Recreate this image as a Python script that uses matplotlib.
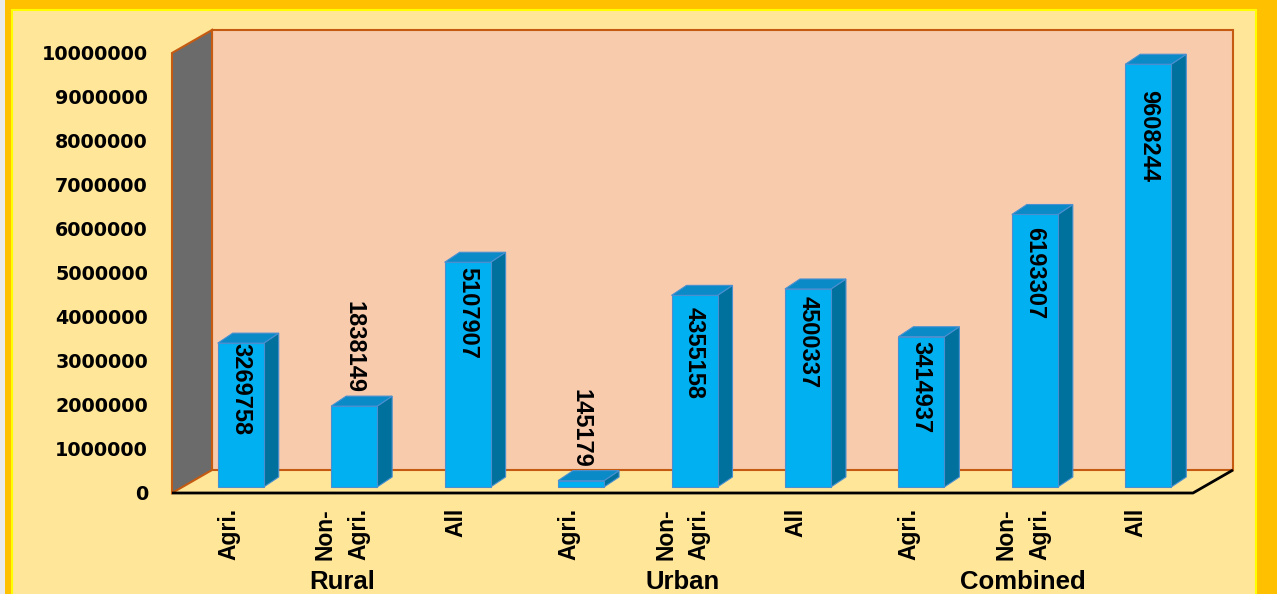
import numpy as np
import matplotlib.pyplot as plt
from matplotlib.patches import Polygon, Rectangle

categories = ['Agri.', 'Non-\nAgri.', 'All', 'Agri.', 'Non-\nAgri.', 'All', 'Agri.', 'Non-\nAgri.', 'All']
groups = ['Rural', 'Urban', 'Combined']
values = [3269758, 1838149, 5107907, 145179, 4355158, 4500337, 3414937, 6193307, 9608244]
yticks = list(range(0, 10000001, 1000000))

# gap (px) between bar top and its value label
label_gap = [0, 13, 5, 13, 12, 7, 4, 13, 26]

W, H = 1277, 594
fig = plt.figure(figsize=(W / 100, H / 100), dpi=100, facecolor='#FFC000')

# outer frame / panel
fig.patches.append(Rectangle((0, 0), 5 / W, 1, transform=fig.transFigure,
                             facecolor='#EAEAEA', edgecolor='none', zorder=-2))
fig.patches.append(Rectangle((12 / W, -0.05), 1244 / W, 1.05 - 10 / H, transform=fig.transFigure,
                             facecolor='#FFE699', edgecolor='#FFFF00', lw=1.5, zorder=-2))

ax = fig.add_axes([172 / W, 101 / H, 1021 / W, 440 / H])
n = len(values)
ymax = yticks[-1]
ax.set_xlim(0, n)
ax.set_ylim(0, ymax)
ax.patch.set_visible(False)
for s in ax.spines.values():
    s.set_visible(False)

# pixel -> data units
px_x = n / 1021
px_y = ymax / 440

# 3d depth of the walls
wdx, wdy = 40 * px_x, 23 * px_y
# bar placement inside the box
bdx, bdy = 12 * px_x, 6 * px_y
# bar own depth
ddx, ddy = 15 * px_x, 10 * px_y
bw = 46 * px_x

wall_edge = '#C55A11'
ax.add_patch(Polygon([(wdx, wdy), (n + wdx, wdy), (n + wdx, ymax + wdy), (wdx, ymax + wdy)],
                     closed=True, facecolor='#F8CBAD', edgecolor=wall_edge, lw=1.5,
                     clip_on=False, zorder=1))
ax.add_patch(Polygon([(0, 0), (wdx, wdy), (wdx, ymax + wdy), (0, ymax)],
                     closed=True, facecolor='#6B6B6B', edgecolor=wall_edge, lw=1.5,
                     clip_on=False, zorder=1))
ax.plot([0, n, n + wdx], [0, 0, wdy], color='black', lw=2, clip_on=False, zorder=2,
        solid_capstyle='butt')

# bars
xc = np.arange(n) + 0.5 + bdx
ax.bar(xc, values, width=bw, bottom=bdy, color='#00B0F0', edgecolor='#4A8FD0',
       lw=0.8, zorder=4)
for x, v in zip(xc, values):
    xl, xr = x - bw / 2, x + bw / 2
    top = v + bdy
    ax.add_patch(Polygon([(xr, bdy), (xr, top), (xr + ddx, top + ddy), (xr + ddx, bdy + ddy)],
                         closed=True, facecolor='#00709C', edgecolor='#4A8FD0', lw=0.8,
                         clip_on=False, zorder=3))
    ax.add_patch(Polygon([(xl, top), (xr, top), (xr + ddx, top + ddy), (xl + ddx, top + ddy)],
                         closed=True, facecolor='#0B8AC8', edgecolor='#4A8FD0', lw=0.8,
                         clip_on=False, zorder=3))

# value labels
for x, v, g in zip(xc, values, label_gap):
    if v < 2500000:
        ax.annotate(str(v), xy=(x, v + bdy), xytext=(0, g), textcoords='offset pixels',
                    rotation=-90, ha='center', va='bottom', fontsize=17, fontweight='bold',
                    family='Liberation Sans', zorder=6)
    else:
        ax.annotate(str(v), xy=(x, v + bdy), xytext=(0, -g), textcoords='offset pixels',
                    rotation=-90, ha='center', va='top', fontsize=17, fontweight='bold',
                    family='Liberation Sans', zorder=6)

# axes ticks
ax.set_yticks(yticks)
ax.set_yticklabels([str(t) for t in yticks], fontsize=13.8, fontweight='bold',
                   family='DejaVu Sans')
ax.tick_params(axis='y', length=0, pad=17.3)

ax.set_xticks(np.arange(n) + 0.5)
ax.set_xticklabels(categories, rotation=90, fontsize=16.5, fontweight='bold',
                   family='Liberation Sans', multialignment='left', linespacing=1.6)
ax.tick_params(axis='x', length=0, pad=10.8)

for k, g in enumerate(groups):
    ax.annotate(g, xy=(3 * k + 1.5, 24), xycoords=('data', 'figure pixels'),
                ha='center', va='top', fontsize=18.5, fontweight='bold',
                family='Liberation Sans', annotation_clip=False)

fig.savefig('out.png', dpi=100, facecolor=fig.get_facecolor())
